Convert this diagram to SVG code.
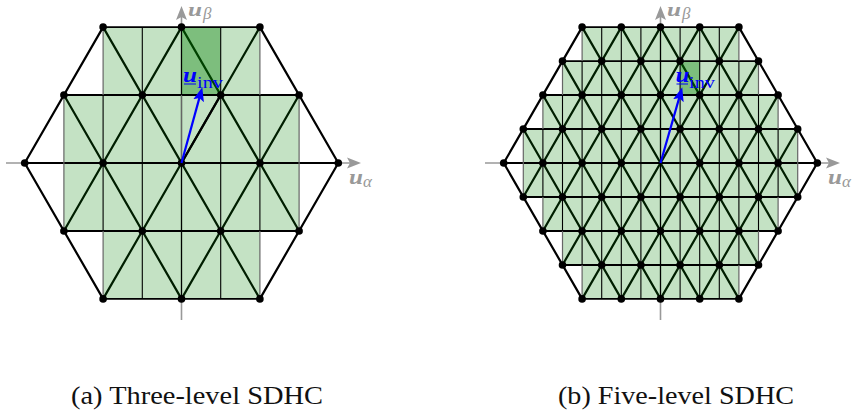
<svg xmlns="http://www.w3.org/2000/svg" width="852" height="415" viewBox="0 0 852 415">
<style>
.ax{fill:none;stroke:#999;stroke-width:1.6}
.d{fill:none;stroke:#000;stroke-width:2.2}
.h{fill:none;stroke:#000;stroke-width:1.9}
.v{fill:none;stroke:#000;stroke-width:1.1}
.e{fill:none;stroke:#666;stroke-width:1.2}
.f{fill:#008000;fill-opacity:.23}
.g{fill:#008000;fill-opacity:.36}
.n circle{fill:#000;r:3.8px}
.arrow{fill:none;stroke:#00f;stroke-width:2.2}
.lb{font-family:"Liberation Serif",serif;font-style:italic;font-weight:bold;font-size:22px;fill:#999}
.lt{font-family:"Liberation Serif",serif;font-style:italic;font-weight:bold;font-size:18px;fill:#999}
.ls{font-family:"Liberation Serif",serif;font-style:italic;font-size:17px;fill:#999}
.lu{font-family:"Liberation Serif",serif;font-style:italic;font-weight:bold;font-size:22px;fill:#00f}
.li{font-family:"Liberation Serif",serif;font-size:17px;fill:#00f}
.cap{font-family:"Liberation Serif",serif;font-size:26px;fill:#111}
</style>
<defs>
<marker id="ga" markerUnits="userSpaceOnUse" markerWidth="16" markerHeight="14" refX="3" refY="6" orient="auto"><path d="M0,0.5L14,6L0,11.5L3,6Z" fill="#999"/></marker>
<marker id="ba" markerUnits="userSpaceOnUse" markerWidth="16" markerHeight="14" refX="3" refY="6" orient="auto"><path d="M0,0.5L14,6L0,11.5L3,6Z" fill="#00f"/></marker>
</defs>

<g id="panel-a">
<path class="ax" d="M6,163H350" marker-end="url(#ga)"/>
<path class="ax" d="M181.5,320V17" marker-end="url(#ga)"/>
<g id="a-lattice">
<path class="d" d="M103.1,27.1L259.9,298.9M181.5,27.1L299.1,231M259.9,27.1L338.3,163M63.9,95L181.5,298.9M24.7,163L103.1,298.9M259.9,27.1L103.1,298.9M181.5,27.1L63.9,231M103.1,27.1L24.7,163M299.1,95L181.5,298.9M338.3,163L259.9,298.9"/>
<path class="f" d="M103.1,27.1H259.9V95H299.1V231H259.9V298.9H103.1V231H63.9V95H103.1Z"/>
<rect class="g" x="181.5" y="27.1" width="39.2" height="67.9"/>
<path class="d" d="M181.5,163L220.7,95"/>
<path class="h" d="M103.1,27.1H259.9M63.9,95H299.1M24.7,163H338.3M63.9,231H299.1M103.1,298.9H259.9"/>
<path class="v" d="M142.3,27.1V298.9M181.5,27.1V95M181.5,163V298.9M220.7,27.1V298.9M103.1,95V231M259.9,95V231"/>
<path class="e" d="M103.1,27.1V95M259.9,27.1V95M63.9,95V231M299.1,95V231M181.5,95V163M103.1,231V298.9M259.9,231V298.9"/>
</g>
<g id="a-nodes" class="n">
<circle cx="103.1" cy="27.1"/><circle cx="181.5" cy="27.1"/><circle cx="259.9" cy="27.1"/>
<circle cx="63.9" cy="95"/><circle cx="142.3" cy="95"/><circle cx="220.7" cy="95"/><circle cx="299.1" cy="95"/>
<circle cx="24.7" cy="163"/><circle cx="103.1" cy="163"/><circle cx="181.5" cy="163"/><circle cx="259.9" cy="163"/><circle cx="338.3" cy="163"/>
<circle cx="63.9" cy="231"/><circle cx="142.3" cy="231"/><circle cx="220.7" cy="231"/><circle cx="299.1" cy="231"/>
<circle cx="103.1" cy="298.9"/><circle cx="181.5" cy="298.9"/><circle cx="259.9" cy="298.9"/>
</g>
<path class="arrow" d="M181.5,163L199.4,97.9" marker-end="url(#ba)"/>
<text class="lu" x="183" y="82" textLength="14" lengthAdjust="spacingAndGlyphs">u</text><path d="M184,84H196" stroke="#00f" stroke-width="1"/>
<text class="li" x="197" y="88" textLength="26" lengthAdjust="spacingAndGlyphs">inv</text>
<text class="lt" x="188" y="16" textLength="14" lengthAdjust="spacingAndGlyphs">u</text><text class="ls" x="203" y="19">β</text>
<text class="lb" x="349" y="184" textLength="14" lengthAdjust="spacingAndGlyphs">u</text><text class="ls" x="363" y="187">α</text>
<text class="cap" x="71" y="404" textLength="252" lengthAdjust="spacingAndGlyphs">(a) Three-level SDHC</text>
</g>

<g id="panel-b">
<path class="ax" d="M485,163H829" marker-end="url(#ga)"/>
<path class="ax" d="M660.5,320V17" marker-end="url(#ga)"/>
<g id="b-lattice">
<path class="d" d="M503.7,163L582.1,298.9M523.3,129.03L621.3,298.9M542.9,95.05L660.5,298.9M562.5,61.08L699.7,298.9M582.1,27.1L738.9,298.9M621.3,27.1L758.5,264.93M660.5,27.1L778.1,230.95M699.7,27.1L797.7,196.98M738.9,27.1L817.3,163M817.3,163L738.9,298.9M797.7,129.03L699.7,298.9M778.1,95.05L660.5,298.9M758.5,61.08L621.3,298.9M738.9,27.1L582.1,298.9M699.7,27.1L562.5,264.93M660.5,27.1L542.9,230.95M621.3,27.1L523.3,196.98M582.1,27.1L503.7,163"/>
<path class="f" d="M582.1,27.1H738.9V61.08H758.5V95.05H778.1V129.03H797.7V196.98H778.1V230.95H758.5V264.93H738.9V298.9H582.1V264.93H562.5V230.95H542.9V196.98H523.3V129.03H542.9V95.05H562.5V61.08H582.1Z"/>
<rect class="g" x="680.1" y="61.08" width="19.6" height="33.97"/>
<path class="h" d="M582.1,27.1H738.9M562.5,61.08H758.5M542.9,95.05H778.1M523.3,129.03H797.7M503.7,163H817.3M523.3,196.98H797.7M542.9,230.95H778.1M562.5,264.93H758.5M582.1,298.9H738.9"/>
<path class="v" d="M601.7,27.1V298.9M621.3,27.1V298.9M640.9,27.1V298.9M660.5,27.1V298.9M680.1,27.1V298.9M699.7,27.1V298.9M719.3,27.1V298.9M582.1,61.08V264.93M738.9,61.08V264.93M562.5,95.05V230.95M758.5,95.05V230.95M542.9,129.03V196.98M778.1,129.03V196.98"/>
<path class="e" d="M582.1,27.1V61.08M738.9,27.1V61.08M562.5,61.08V95.05M758.5,61.08V95.05M542.9,95.05V129.03M778.1,95.05V129.03M523.3,129.03V196.98M797.7,129.03V196.98M542.9,196.98V230.95M778.1,196.98V230.95M562.5,230.95V264.93M758.5,230.95V264.93M582.1,264.93V298.9M738.9,264.93V298.9"/>
</g>
<g id="b-nodes" class="n">
<circle cx="582.1" cy="27.1"/><circle cx="621.3" cy="27.1"/><circle cx="660.5" cy="27.1"/><circle cx="699.7" cy="27.1"/><circle cx="738.9" cy="27.1"/>
<circle cx="562.5" cy="61.08"/><circle cx="601.7" cy="61.08"/><circle cx="640.9" cy="61.08"/><circle cx="680.1" cy="61.08"/><circle cx="719.3" cy="61.08"/><circle cx="758.5" cy="61.08"/>
<circle cx="542.9" cy="95.05"/><circle cx="582.1" cy="95.05"/><circle cx="621.3" cy="95.05"/><circle cx="660.5" cy="95.05"/><circle cx="699.7" cy="95.05"/><circle cx="738.9" cy="95.05"/><circle cx="778.1" cy="95.05"/>
<circle cx="523.3" cy="129.03"/><circle cx="562.5" cy="129.03"/><circle cx="601.7" cy="129.03"/><circle cx="640.9" cy="129.03"/><circle cx="680.1" cy="129.03"/><circle cx="719.3" cy="129.03"/><circle cx="758.5" cy="129.03"/><circle cx="797.7" cy="129.03"/>
<circle cx="503.7" cy="163"/><circle cx="542.9" cy="163"/><circle cx="582.1" cy="163"/><circle cx="621.3" cy="163"/><circle cx="699.7" cy="163"/><circle cx="738.9" cy="163"/><circle cx="778.1" cy="163"/><circle cx="817.3" cy="163"/>
<circle cx="523.3" cy="196.98"/><circle cx="562.5" cy="196.98"/><circle cx="601.7" cy="196.98"/><circle cx="640.9" cy="196.98"/><circle cx="680.1" cy="196.98"/><circle cx="719.3" cy="196.98"/><circle cx="758.5" cy="196.98"/><circle cx="797.7" cy="196.98"/>
<circle cx="542.9" cy="230.95"/><circle cx="582.1" cy="230.95"/><circle cx="621.3" cy="230.95"/><circle cx="660.5" cy="230.95"/><circle cx="699.7" cy="230.95"/><circle cx="738.9" cy="230.95"/><circle cx="778.1" cy="230.95"/>
<circle cx="562.5" cy="264.93"/><circle cx="601.7" cy="264.93"/><circle cx="640.9" cy="264.93"/><circle cx="680.1" cy="264.93"/><circle cx="719.3" cy="264.93"/><circle cx="758.5" cy="264.93"/>
<circle cx="582.1" cy="298.9"/><circle cx="621.3" cy="298.9"/><circle cx="660.5" cy="298.9"/><circle cx="699.7" cy="298.9"/><circle cx="738.9" cy="298.9"/>
</g>
<path class="arrow" d="M660.5,163L679.2,97.9" marker-end="url(#ba)"/>
<text class="lu" x="675.5" y="82" textLength="14" lengthAdjust="spacingAndGlyphs">u</text><path d="M676.5,84H688" stroke="#00f" stroke-width="1"/>
<text class="li" x="689" y="88" textLength="26" lengthAdjust="spacingAndGlyphs">inv</text>
<text class="lt" x="667" y="16" textLength="14" lengthAdjust="spacingAndGlyphs">u</text><text class="ls" x="682" y="19">β</text>
<text class="lb" x="828" y="184" textLength="14" lengthAdjust="spacingAndGlyphs">u</text><text class="ls" x="842" y="187">α</text>
<text class="cap" x="558" y="404" textLength="236" lengthAdjust="spacingAndGlyphs">(b) Five-level SDHC</text>
</g>
</svg>
